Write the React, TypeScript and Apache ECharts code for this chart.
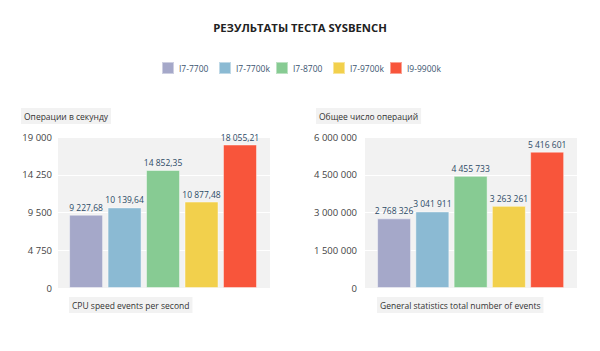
import React, { useEffect, useRef } from "react";
import * as echarts from "echarts";

const cpuNames = ["I7-7700", "I7-7700k", "I7-8700", "I7-9700k", "I9-9900k"];
const colors = ["#a5a8c9", "#8bbad3", "#87cb93", "#f2d04c", "#f8553b"];
const opsPerSecond = [9227.68, 10139.64, 14852.35, 10877.48, 18055.21];
const totalEvents = [2768326, 3041911, 4455733, 3263261, 5416601];
const leftAxis = { max: 19000, interval: 4750 };
const rightAxis = { max: 6000000, interval: 1500000 };

function fmt(v: number, decimals: number): string {
  const fixed = v.toFixed(decimals);
  const [intPart, dec] = fixed.split(".");
  const withSpaces = intPart.replace(/\B(?=(\d{3})+(?!\d))/g, " ");
  return dec ? withSpaces + "," + dec : withSpaces;
}

const FONT = "Open Sans";

export default function App() {
  const ref = useRef<HTMLDivElement>(null);
  useEffect(() => {
    if (!ref.current) return;
    const chart = echarts.init(ref.current, undefined, { renderer: "svg" });
    const boxTitle = (text: string, left: number, top: number) => ({
      text,
      left,
      top,
      padding: [3, 3, 3, 3],
      backgroundColor: "#f2f2f2",
      textStyle: { fontSize: 8.5, fontWeight: "normal", color: "#333", fontFamily: FONT, lineHeight: 10 },
    });
    const datasets = [
      { values: opsPerSecond, dec: 2 },
      { values: totalEvents, dec: 0 },
    ];
    const series: any[] = [];
    datasets.forEach((d, g) => {
      cpuNames.forEach((name, i) => {
        series.push({
          type: "bar",
          name,
          xAxisIndex: g,
          yAxisIndex: g,
          stack: "s" + g,
          barWidth: 34,
          data: [[i, d.values[i]]],
          itemStyle: { color: colors[i], borderColor: "rgba(255,255,255,0.45)", borderWidth: 1 },
          label: {
            show: true,
            position: "top",
            distance: 3,
            fontSize: 8.5,
            color: "#2c4a66",
            fontFamily: FONT,
            formatter: (p: any) => fmt(p.value[1], d.dec),
          },
        });
      });
    });
    const yAx = (a: { max: number; interval: number }, margin: number) => ({
      type: "value",
      min: 0,
      max: a.max,
      interval: a.interval,
      axisLine: { show: false },
      axisTick: { show: false },
      splitLine: { lineStyle: { color: "#ffffff", width: 1 } },
      axisLabel: {
        fontSize: 9.5,
        color: "#444",
        fontFamily: FONT,
        margin,
        formatter: (v: number) => fmt(v, 0),
      },
    });
    const legends = cpuNames.map((name, i) => ({
      data: [name],
      top: 61,
      left: 161 + 57 * i,
      padding: 0,
      icon: "rect",
      itemWidth: 12,
      itemHeight: 12,
      itemGap: 4,
      selectedMode: false,
      textStyle: { fontSize: 8.5, color: "#3b5570", fontFamily: FONT },
    }));
    chart.setOption({
      animation: false,
      backgroundColor: "#ffffff",
      title: [
        {
          text: "РЕЗУЛЬТАТЫ ТЕСТА SYSBENCH",
          left: "center",
          top: 17,
          textStyle: { fontSize: 11.3, fontWeight: "bold", color: "#222", fontFamily: FONT },
        },
        boxTitle("Операции в секунду", 21, 108),
        boxTitle("Общее число операций", 316, 108),
        boxTitle("CPU speed events per second", 69, 297),
        boxTitle("General statistics total number of events", 377, 297),
      ],
      legend: legends,
      grid: [
        { left: 58, width: 212, top: 137, height: 151, show: true, backgroundColor: "#f2f2f2", borderWidth: 0 },
        { left: 365, width: 212, top: 137, height: 151, show: true, backgroundColor: "#f2f2f2", borderWidth: 0 },
      ],
      xAxis: [
        { type: "value", gridIndex: 0, min: -0.73, max: 4.78, show: false, splitLine: { show: false } },
        { type: "value", gridIndex: 1, min: -0.76, max: 4.78, show: false, splitLine: { show: false } },
      ],
      yAxis: [
        { ...yAx(leftAxis, 6), gridIndex: 0 },
        { ...yAx(rightAxis, 8), gridIndex: 1 },
      ],
      series,
    });
    return () => chart.dispose();
  }, []);
  return <div ref={ref} style={{ position: "absolute", left: 0, top: 0, width: 600, height: 351 }} />;
}
